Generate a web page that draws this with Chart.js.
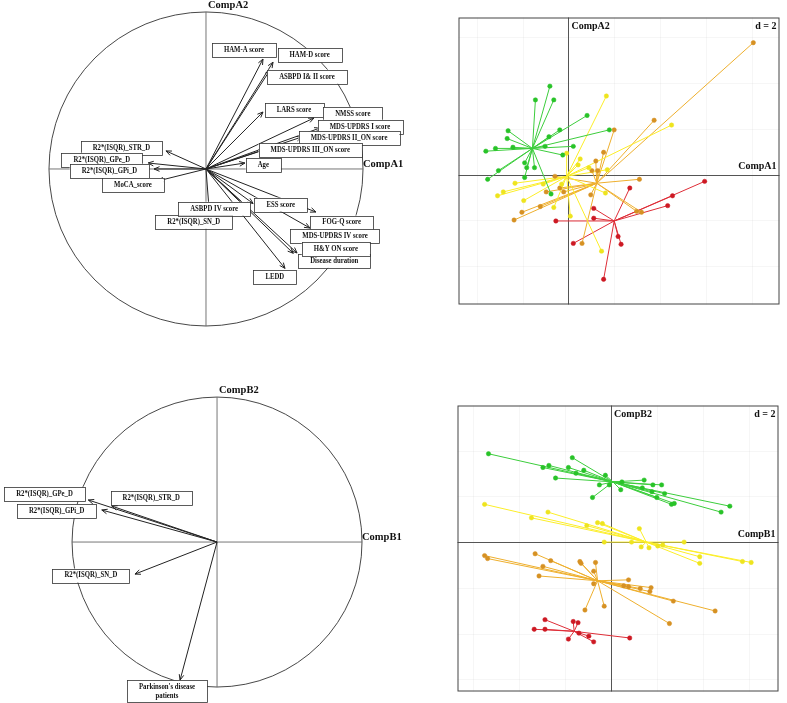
<!DOCTYPE html>
<html>
<head>
<meta charset="utf-8">
<script src="https://cdn.jsdelivr.net/npm/chart.js@4.4.1/dist/chart.umd.min.js"></script>
<style>
  body { margin: 0; background: #fff; width: 787px; height: 703px; position: relative; overflow: hidden; }
  canvas { position: absolute; }
</style>
</head>
<body>
<canvas id="corA" width="420" height="340" style="left:0;top:0"></canvas>
<canvas id="scoreA" width="330" height="296" style="left:454px;top:13px"></canvas>
<canvas id="corB" width="420" height="328" style="left:0;top:375px"></canvas>
<canvas id="scoreB" width="330" height="295" style="left:453px;top:401px"></canvas>
<script>
// 相关圆 A：变量名、箭头终点、标签位置（相关系数单位）
const varsA = ['HAM-A score', 'HAM-D score', 'ASBPD I& II score', 'LARS score', 'NMSS score',
  'MDS-UPDRS I score', 'MDS-UPDRS II_ON score', 'MDS-UPDRS III_ON score', 'Age',
  'R2*(ISQR)_STR_D', 'R2*(ISQR)_GPe_D', 'R2*(ISQR)_GPi_D', 'MoCA_score', 'ESS score',
  'R2*(ISQR)_SN_D', 'ASBPD IV score', 'FOG-Q score', 'MDS-UPDRS IV score', 'Disease duration',
  'H&Y ON score', 'LEDD'];
const tipA_x = [0.363, 0.427, 0.408, 0.363, 0.688, 0.726, 0.611, 0.369, 0.248, -0.255, -0.369, -0.331, -0.306, 0.30, 0.02, 0.27, 0.70, 0.662, 0.556, 0.58, 0.503];
const tipA_y = [0.70, 0.68, 0.63, 0.363, 0.325, 0.261, 0.204, 0.121, 0.038, 0.115, 0.038, 0.0, -0.076, -0.22, -0.26, -0.25, -0.274, -0.376, -0.537, -0.535, -0.633];
const labA_x = [0.242, 0.66, 0.643, 0.56, 0.935, 0.981, 0.911, 0.664, 0.365, -0.539, -0.664, -0.615, -0.465, 0.476, -0.078, 0.052, 0.864, 0.822, 0.817, 0.827, 0.438];
const labA_y = [0.758, 0.723, 0.587, 0.377, 0.349, 0.269, 0.196, 0.118, 0.024, 0.132, 0.059, -0.011, -0.102, -0.227, -0.336, -0.253, -0.341, -0.429, -0.585, -0.508, -0.689];

// 相关圆 B
const varsB = ['R2*(ISQR)_STR_D', 'R2*(ISQR)_GPe_D', 'R2*(ISQR)_GPi_D', 'R2*(ISQR)_SN_D', "Parkinson's disease\npatients"];
const tipB_x = [-0.726, -0.888, -0.795, -0.566, -0.255];
const tipB_y = [0.248, 0.29, 0.221, -0.221, -0.952];
const labB_x = [-0.454, -1.19, -1.106, -0.870, -0.345];
const labB_y = [0.305, 0.328, 0.213, -0.231, -1.03];

// 个体得分 A（四组 + 组重心）
const A_green = [[-0.81, 3.86], [-1.44, 3.26], [-0.64, 3.26], [0.81, 2.58], [1.78, 1.95], [-0.38, 1.95], [-2.63, 1.91], [-2.67, 1.57], [-0.85, 1.65], [-3.60, 1.02], [-3.18, 1.14], [-2.42, 1.19], [-1.02, 1.23], [0.21, 1.23], [-0.25, 0.85], [-1.91, 0.51], [-1.82, 0.30], [-1.48, 0.30], [-3.05, 0.17], [-3.52, -0.21], [-1.91, -0.13], [-0.76, -0.85]];
const A_yellow = [[1.65, 3.43], [4.49, 2.16], [-0.08, 0.93], [0.51, 0.68], [0.42, 0.42], [1.69, 0.21], [0.89, 0.30], [-2.33, -0.38], [-2.84, -0.76], [-3.09, -0.93], [-1.95, -1.14], [-0.64, -1.44], [0.08, -1.82], [1.44, -3.35], [-1.10, -0.42], [1.61, -0.81], [-0.30, -0.42]];
const A_orange = [[8.05, 5.76], [3.73, 2.37], [1.99, 1.95], [1.53, 0.97], [1.19, 0.59], [1.02, 0.17], [1.27, 0.17], [3.09, -0.21], [-0.38, -0.59], [-0.59, -0.08], [-0.97, -0.76], [-0.21, -0.76], [-1.23, -1.40], [-2.03, -1.65], [-2.37, -1.99], [0.59, -3.01], [2.97, -1.61], [3.18, -1.65], [0.97, -0.89]];
const A_red = [[5.93, -0.30], [4.32, -1.36], [4.53, -0.93], [2.67, -0.59], [1.10, -1.48], [1.10, -1.91], [-0.55, -2.03], [0.21, -3.01], [2.29, -3.05], [2.16, -2.71], [1.53, -4.58]];
const A_centre = [[-1.57, 1.14], [-0.08, -0.08], [1.23, -0.38], [1.99, -2.03]];

// 个体得分 B
const B_green = [[-5.34, 3.86], [-1.69, 3.69], [-2.97, 3.26], [-2.71, 3.35], [-1.86, 3.26], [-1.19, 3.14], [-1.53, 3.01], [-2.42, 2.80], [-0.25, 2.92], [-0.51, 2.50], [-0.81, 1.95], [-0.08, 2.50], [0.42, 2.29], [0.47, 2.63], [1.44, 2.71], [1.82, 2.50], [2.20, 2.50], [1.36, 2.37], [1.78, 2.20], [2.33, 2.12], [1.99, 1.95], [2.63, 1.65], [2.75, 1.69], [5.17, 1.57], [4.79, 1.31]];
const B_yellow = [[-5.51, 1.65], [-2.75, 1.31], [-3.47, 1.06], [-1.06, 0.72], [-0.59, 0.85], [-0.38, 0.81], [1.23, 0.59], [-0.30, 0], [0.89, 0], [1.31, -0.21], [2.03, -0.17], [2.25, -0.13], [3.18, 0], [3.86, -0.64], [3.86, -0.93], [5.72, -0.85], [6.10, -0.89], [1.65, -0.25]];
const B_orange = [[-5.51, -0.59], [-5.38, -0.72], [-3.31, -0.51], [-2.63, -0.81], [-2.97, -1.06], [-3.14, -1.48], [-1.36, -0.85], [-1.31, -0.93], [-0.68, -0.89], [-0.76, -1.27], [-0.76, -1.82], [0.76, -1.65], [0.55, -1.91], [0.76, -1.95], [1.27, -2.03], [1.74, -1.99], [1.69, -2.16], [2.71, -2.58], [4.53, -3.01], [-1.14, -2.97], [-0.30, -2.80], [2.54, -3.56]];
const B_red = [[-2.88, -3.39], [-3.35, -3.81], [-2.88, -3.81], [-1.65, -3.47], [-1.44, -3.52], [-1.86, -4.24], [-1.40, -3.98], [-0.97, -4.11], [-0.76, -4.36], [0.81, -4.19]];
const B_centre = [[0.08, 2.63], [1.53, 0], [-0.59, -1.69], [-1.61, -3.90]];

const pointCol = ['rgb(40,195,40)', 'rgb(238,228,30)', 'rgb(214,145,35)', 'rgb(205,25,35)'];
const lineCol = ['rgb(60,205,60)', 'rgb(252,238,40)', 'rgb(238,175,45)', 'rgb(222,45,55)'];

const SERIF = '"Liberation Serif", "DejaVu Serif", serif';

// 圆、轴、箭头和标签框
const circlePlugin = {
  id: 'circle',
  beforeDatasetsDraw(chart, args, o) {
    const { ctx, scales: { x, y } } = chart;
    const cx = x.getPixelForValue(0), cy = y.getPixelForValue(0);
    const r = x.getPixelForValue(1) - cx;
    ctx.save();
    ctx.strokeStyle = '#333';
    ctx.lineWidth = 0.9;
    ctx.beginPath();
    ctx.arc(cx, cy, r, 0, Math.PI * 2);
    ctx.stroke();
    ctx.strokeStyle = '#666';
    ctx.beginPath();
    ctx.moveTo(cx - r, cy); ctx.lineTo(cx + r, cy);
    ctx.moveTo(cx, cy - r); ctx.lineTo(cx, cy + r);
    ctx.stroke();
    ctx.fillStyle = '#111';
    ctx.font = 'bold 10.5px ' + SERIF;
    ctx.textBaseline = 'alphabetic';
    ctx.textAlign = 'left';
    ctx.fillText(o.yName, cx + 2, cy - r - 4);
    ctx.fillText(o.xName, cx + r, cy - 2);
    ctx.restore();
  },
  afterDatasetsDraw(chart, args, o) {
    const { ctx, scales: { x, y } } = chart;
    const cx = x.getPixelForValue(0), cy = y.getPixelForValue(0);
    ctx.save();
    // 箭头
    ctx.strokeStyle = '#222';
    ctx.lineWidth = 1;
    o.tipX.forEach((tx, i) => {
      const px = x.getPixelForValue(tx), py = y.getPixelForValue(o.tipY[i]);
      const a = Math.atan2(py - cy, px - cx);
      ctx.beginPath();
      ctx.moveTo(px - 6 * Math.cos(a - 0.4), py - 6 * Math.sin(a - 0.4));
      ctx.lineTo(px, py);
      ctx.lineTo(px - 6 * Math.cos(a + 0.4), py - 6 * Math.sin(a + 0.4));
      ctx.stroke();
    });
    // 标签框（字体略压窄）
    const squeeze = 0.9;
    ctx.font = 'bold 7.5px ' + SERIF;
    ctx.textAlign = 'center';
    ctx.textBaseline = 'middle';
    o.names.forEach((name, i) => {
      const lines = name.split('\n');
      const w = Math.max(...lines.map(l => ctx.measureText(l).width)) * squeeze + 24;
      const h = lines.length * 8 + 6;
      const px = x.getPixelForValue(o.labX[i]), py = y.getPixelForValue(o.labY[i]);
      ctx.fillStyle = '#fff';
      ctx.fillRect(px - w / 2, py - h / 2, w, h);
      ctx.strokeStyle = '#333';
      ctx.lineWidth = 0.8;
      ctx.strokeRect(Math.round(px - w / 2) + 0.5, Math.round(py - h / 2) + 0.5, Math.round(w), Math.round(h));
      ctx.fillStyle = '#111';
      lines.forEach((l, k) => {
        ctx.save();
        ctx.translate(px, py + (k - (lines.length - 1) / 2) * 8.5);
        ctx.scale(squeeze, 1);
        ctx.fillText(l, 0, 0);
        ctx.restore();
      });
    });
    ctx.restore();
  }
};

function corChart(id, names, tipX, tipY, labX, labY, xName, yName, xr, yr) {
  const seg = [];
  tipX.forEach((tx, i) => seg.push({ x: 0, y: 0 }, { x: tx, y: tipY[i] }, { x: null, y: null }));
  return new Chart(document.getElementById(id), {
    type: 'scatter',
    data: { datasets: [{ data: seg, showLine: true, borderColor: '#222', borderWidth: 1, pointRadius: 0 }] },
    options: {
      responsive: false,
      animation: false,
      layout: { padding: 0 },
      scales: {
        x: { type: 'linear', display: false, min: xr[0], max: xr[1] },
        y: { type: 'linear', display: false, min: yr[0], max: yr[1] }
      },
      plugins: {
        legend: { display: false },
        tooltip: { enabled: false },
        circle: { names, tipX, tipY, labX, labY, xName, yName }
      }
    },
    plugins: [circlePlugin]
  });
}

// 框、网格、零线和轴名
const framePlugin = {
  id: 'frame',
  beforeDatasetsDraw(chart, args, o) {
    const { ctx, chartArea: ca, scales: { x, y } } = chart;
    ctx.save();
    ctx.strokeStyle = 'rgba(0,0,0,0.035)';
    ctx.lineWidth = 1;
    ctx.beginPath();
    for (let v = Math.ceil(x.min / 2) * 2; v <= x.max; v += 2) {
      const p = Math.round(x.getPixelForValue(v)) + 0.5;
      ctx.moveTo(p, ca.top); ctx.lineTo(p, ca.bottom);
    }
    for (let v = Math.ceil(y.min / 2) * 2; v <= y.max; v += 2) {
      const p = Math.round(y.getPixelForValue(v)) + 0.5;
      ctx.moveTo(ca.left, p); ctx.lineTo(ca.right, p);
    }
    ctx.stroke();
    const zx = Math.round(x.getPixelForValue(0)) + 0.5, zy = Math.round(y.getPixelForValue(0)) + 0.5;
    ctx.strokeStyle = '#555';
    ctx.beginPath();
    ctx.moveTo(zx, ca.top); ctx.lineTo(zx, ca.bottom);
    ctx.moveTo(ca.left, zy); ctx.lineTo(ca.right, zy);
    ctx.stroke();
    ctx.restore();
  },
  afterDraw(chart, args, o) {
    const { ctx, chartArea: ca, scales: { x, y } } = chart;
    const zx = x.getPixelForValue(0), zy = y.getPixelForValue(0);
    ctx.save();
    ctx.strokeStyle = '#444';
    ctx.lineWidth = 1;
    ctx.strokeRect(ca.left + 0.5, ca.top + 0.5, ca.right - ca.left - 1, ca.bottom - ca.top - 1);
    ctx.fillStyle = '#111';
    ctx.font = 'bold 10px ' + SERIF;
    ctx.textBaseline = 'top';
    ctx.textAlign = 'left';
    ctx.fillText(o.yName, zx + 3, ca.top + 4);
    ctx.textAlign = 'right';
    ctx.fillText('d = 2', ca.right - 3, ca.top + 4);
    ctx.textBaseline = 'bottom';
    ctx.fillText(o.xName, ca.right - 3, zy - 3);
    ctx.restore();
  }
};

function starChart(id, groups, centres, xName, yName, xr, yr) {
  const datasets = [];
  groups.forEach((pts, g) => {
    const seg = [];
    pts.forEach(p => seg.push({ x: centres[g][0], y: centres[g][1] }, { x: p[0], y: p[1] }, { x: null, y: null }));
    datasets.push({ data: seg, showLine: true, borderColor: lineCol[g], borderWidth: 1, pointRadius: 0, order: 2 });
  });
  groups.forEach((pts, g) => {
    datasets.push({
      data: pts.map(p => ({ x: p[0], y: p[1] })),
      pointRadius: 2.2, pointBackgroundColor: pointCol[g], pointBorderColor: pointCol[g],
      pointBorderWidth: 0.5, order: 1
    });
  });
  return new Chart(document.getElementById(id), {
    type: 'scatter',
    data: { datasets },
    options: {
      responsive: false,
      animation: false,
      layout: { padding: 0 },
      scales: {
        x: { type: 'linear', display: false, min: xr[0], max: xr[1] },
        y: { type: 'linear', display: false, min: yr[0], max: yr[1] }
      },
      plugins: {
        legend: { display: false },
        tooltip: { enabled: false },
        frame: { xName, yName }
      }
    },
    plugins: [framePlugin]
  });
}

corChart('corA', varsA, tipA_x, tipA_y, labA_x, labA_y, 'CompA1', 'CompA2', [-1.312, 1.363], [-1.089, 1.076]);
corChart('corB', varsB, tipB_x, tipB_y, labB_x, labB_y, 'CompB1', 'CompB2', [-1.497, 1.4], [-1.110, 1.152]);
starChart('scoreA', [A_green, A_yellow, A_orange, A_red], A_centre, 'CompA1', 'CompA2', [-4.79, 9.19], [-5.68, 6.86]);
starChart('scoreB', [B_green, B_yellow, B_orange, B_red], B_centre, 'CompB1', 'CompB2', [-6.69, 7.29], [-6.53, 5.97]);
</script>
</body>
</html>
